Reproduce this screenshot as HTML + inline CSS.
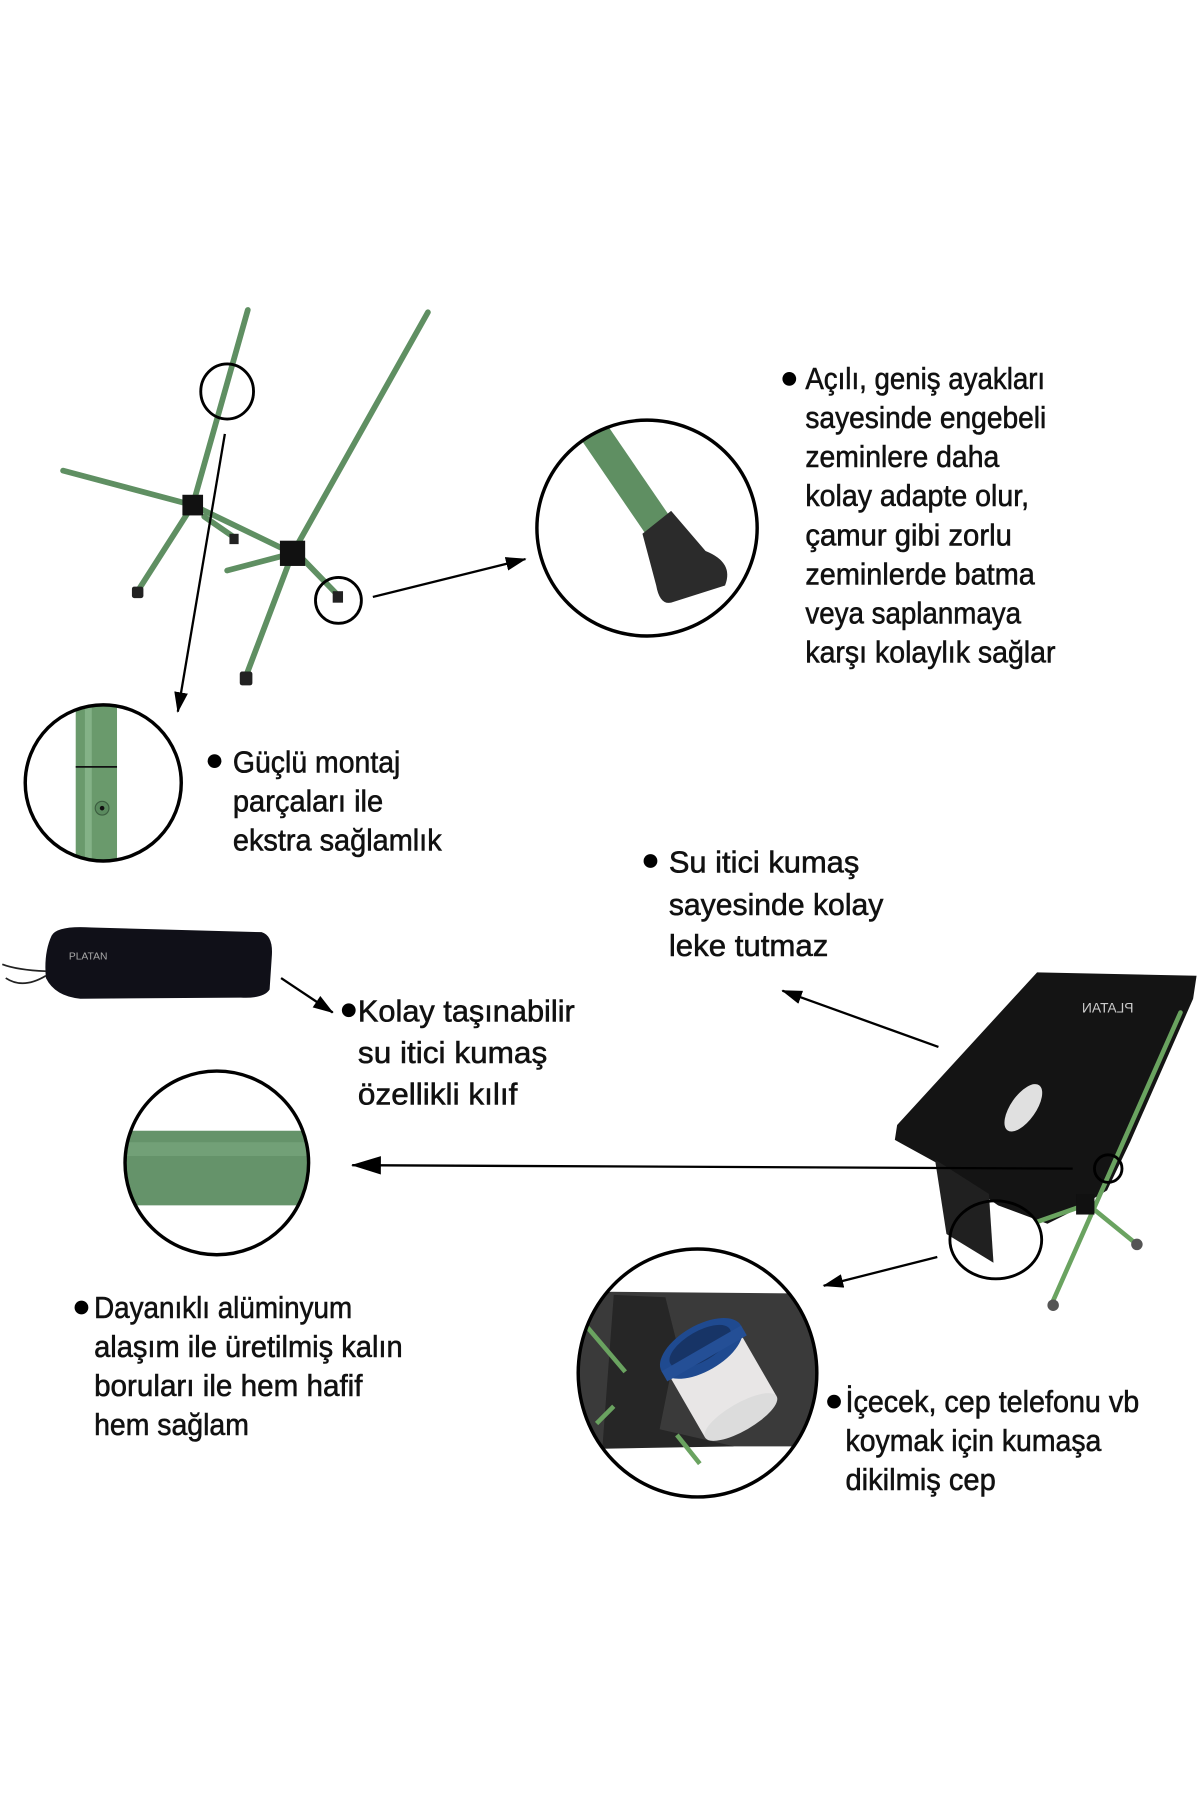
<!DOCTYPE html>
<html><head><meta charset="utf-8"><style>
html,body{margin:0;padding:0;background:#fff;}
svg{display:block;}
text{font-family:"Liberation Sans Narrow","Liberation Sans",sans-serif;font-size:27px;fill:#111;stroke:#111;stroke-width:0.5;}
</style></head><body>
<svg width="1200" height="1800" viewBox="0 0 1046 1568" preserveAspectRatio="none" xmlns="http://www.w3.org/2000/svg">
<defs>
<marker id="ahb" markerWidth="26" markerHeight="16" refX="25" refY="8" orient="auto" markerUnits="userSpaceOnUse"><path d="M0,0 L26,8 L0,16 z" fill="#000"/></marker>
<marker id="ahm" markerWidth="18" markerHeight="12" refX="17" refY="6" orient="auto" markerUnits="userSpaceOnUse"><path d="M0,0 L18,6 L0,12 z" fill="#000"/></marker>
<clipPath id="c1"><ellipse cx="564" cy="460" rx="96" ry="94"/></clipPath>
<clipPath id="c2"><ellipse cx="90" cy="682" rx="68" ry="68"/></clipPath>
<clipPath id="c3"><ellipse cx="189" cy="1013" rx="80" ry="80"/></clipPath>
<clipPath id="c4"><ellipse cx="608" cy="1196" rx="104" ry="108"/></clipPath>
</defs>

<g stroke="#5f8f62" stroke-width="5" stroke-linecap="round" fill="none">
<line x1="216" y1="270" x2="168" y2="440"/>
<line x1="168" y1="440" x2="120" y2="515"/>
<line x1="55" y1="410" x2="168" y2="440"/>
<line x1="168" y1="440" x2="255" y2="482"/>
<line x1="178" y1="450" x2="204" y2="468"/>
<line x1="373" y1="272" x2="255" y2="482"/>
<line x1="255" y1="482" x2="214" y2="590"/>
<line x1="255" y1="482" x2="198" y2="497"/>
<line x1="262" y1="485" x2="294" y2="518"/>
</g>
<rect x="159" y="431" width="18" height="18" fill="#111"/>
<rect x="244" y="471" width="22" height="22" fill="#111"/>
<rect x="115" y="511" width="10" height="10" rx="2" fill="#222"/>
<rect x="209" y="585" width="11" height="12" rx="2" fill="#222"/>
<rect x="200" y="465" width="8" height="9" fill="#222"/>
<rect x="290" y="515" width="9" height="10" fill="#222"/>

<g fill="none" stroke="#000" stroke-width="2.5">
<ellipse cx="198" cy="341" rx="23" ry="24"/>
<ellipse cx="295" cy="523" rx="20" ry="20"/>
</g>

<g clip-path="url(#c1)">
<line x1="510" y1="365" x2="575" y2="460" stroke="#5f8f62" stroke-width="26"/>
<path d="M560,465 L585,445 L615,480 Q640,490 632,510 L585,525 Q575,527 572,510 Z" fill="#2b2b2b"/>
</g>
<ellipse cx="564" cy="460" rx="96" ry="94" fill="none" stroke="#000" stroke-width="3"/>

<g clip-path="url(#c2)">
<rect x="66" y="610" width="36" height="150" fill="#6a9a6c"/>
<rect x="74" y="610" width="6" height="150" fill="#84b287" />
<line x1="66" y1="668" x2="102" y2="668" stroke="#111" stroke-width="1.5"/>
<circle cx="89" cy="704" r="6" fill="#5a8a5e" stroke="#3c5e40"/>
<circle cx="89" cy="704" r="2" fill="#111"/>
</g>
<ellipse cx="90" cy="682" rx="68" ry="68" fill="none" stroke="#000" stroke-width="3"/>

<g clip-path="url(#c3)">
<rect x="100" y="985" width="180" height="65" fill="#65936a"/>
<rect x="100" y="995" width="180" height="12" fill="#72a077"/>
</g>
<ellipse cx="189" cy="1013" rx="80" ry="80" fill="none" stroke="#000" stroke-width="3"/>

<g clip-path="url(#c4)">
<path d="M500,1125 L720,1127 L720,1260 L500,1260 Z" fill="#3a3a3a"/>
<path d="M535,1128 L580,1130 L590,1170 L575,1245 L640,1260 L525,1262 Z" fill="#262626"/>
<line x1="505" y1="1148" x2="545" y2="1195" stroke="#6aa360" stroke-width="4"/>
<line x1="590" y1="1250" x2="610" y2="1275" stroke="#6aa360" stroke-width="4"/>
<line x1="520" y1="1240" x2="535" y2="1225" stroke="#6aa360" stroke-width="4"/>
<g transform="rotate(-30 630 1195)">
<rect x="588" y="1175" width="72" height="62" fill="#e8e6e6"/>
<ellipse cx="624" cy="1237" rx="36" ry="12" fill="#dcdcdc"/>
<ellipse cx="624" cy="1168" rx="40" ry="20" fill="#1f4a90"/>
<ellipse cx="624" cy="1166" rx="30" ry="13" fill="#173466"/>
<rect x="584" y="1168" width="80" height="10" fill="#244f96"/>
</g>
</g>
<ellipse cx="608" cy="1196" rx="104" ry="108" fill="none" stroke="#000" stroke-width="3"/>

<path d="M45,815 Q50,806 80,808 L228,812 Q238,815 237,832 L235,862 Q230,870 210,869 L70,870 Q48,868 40,852 Q38,830 45,815 Z" fill="#101018"/>
<text x="60" y="836" style="font-size:9px;fill:#aaa;stroke:none;">PLATAN</text>
<path d="M40,846 Q15,845 2,840 M40,850 Q20,862 5,852" stroke="#222" stroke-width="1.5" fill="none"/>

<path d="M904,847 L1043,850 L1040,870 L985,995 L965,1037 L935,1055 L913,1066 L870,1050 L820,1015 L780,993 L782,980 Z" fill="#141414"/>
<g stroke="#6aa360" stroke-width="4" stroke-linecap="round">
<line x1="1029" y1="882" x2="918" y2="1133"/>
<line x1="948" y1="1049" x2="991" y2="1084"/>
<line x1="948" y1="1049" x2="905" y2="1064"/>
</g>
<circle cx="918" cy="1137" r="5" fill="#555"/>
<circle cx="991" cy="1084" r="5" fill="#555"/>
<ellipse cx="892" cy="965" rx="11" ry="24" transform="rotate(35 892 965)" fill="#e0e0e0"/>
<path d="M815,1010 L862,1040 L866,1100 L825,1075 Z" fill="#202020"/>
<rect x="938" y="1040" width="16" height="18" fill="#111"/>
<text x="932" y="882" transform="scale(-1,1) translate(-1920,0)" style="font-size:12px;fill:#ccc;stroke:none;">PLATAN</text>
<g fill="none" stroke="#000" stroke-width="2.5">
<ellipse cx="966" cy="1018" rx="12" ry="12"/>
<ellipse cx="868" cy="1080" rx="40" ry="34"/>
</g>

<g stroke="#000" stroke-width="2" fill="none">
<line x1="196" y1="378" x2="155" y2="620" marker-end="url(#ahm)"/>
<line x1="325" y1="520" x2="458" y2="487" marker-end="url(#ahm)"/>
<line x1="245" y1="852" x2="290" y2="882" marker-end="url(#ahm)"/>
<line x1="818" y1="912" x2="682" y2="863" marker-end="url(#ahm)"/>
<line x1="935" y1="1018" x2="307" y2="1015" marker-end="url(#ahb)"/>
<line x1="817" y1="1095" x2="718" y2="1120" marker-end="url(#ahm)"/>
</g>

<g fill="#000">
<circle cx="688" cy="330" r="6"/>
<circle cx="187" cy="663" r="6"/>
<circle cx="567" cy="750" r="6"/>
<circle cx="304" cy="880" r="6"/>
<circle cx="71" cy="1139" r="6"/>
<circle cx="727" cy="1221" r="6"/>
</g>

<text x="702" y="339" textLength="209" lengthAdjust="spacingAndGlyphs">Açılı, geniş ayakları</text>
<text x="702" y="373" textLength="210" lengthAdjust="spacingAndGlyphs">sayesinde engebeli</text>
<text x="702" y="407" textLength="169" lengthAdjust="spacingAndGlyphs">zeminlere daha</text>
<text x="702" y="441" textLength="195" lengthAdjust="spacingAndGlyphs">kolay adapte olur,</text>
<text x="702" y="475" textLength="180" lengthAdjust="spacingAndGlyphs">çamur gibi zorlu</text>
<text x="702" y="509" textLength="200" lengthAdjust="spacingAndGlyphs">zeminlerde batma</text>
<text x="702" y="543" textLength="188" lengthAdjust="spacingAndGlyphs">veya saplanmaya</text>
<text x="702" y="577" textLength="218" lengthAdjust="spacingAndGlyphs">karşı kolaylık sağlar</text>

<text x="203" y="673" textLength="146" lengthAdjust="spacingAndGlyphs">Güçlü montaj</text>
<text x="203" y="707" textLength="131" lengthAdjust="spacingAndGlyphs">parçaları ile</text>
<text x="203" y="741" textLength="182" lengthAdjust="spacingAndGlyphs">ekstra sağlamlık</text>

<text x="583" y="760" textLength="166" lengthAdjust="spacingAndGlyphs">Su itici kumaş</text>
<text x="583" y="797" textLength="187" lengthAdjust="spacingAndGlyphs">sayesinde kolay</text>
<text x="583" y="833" textLength="139" lengthAdjust="spacingAndGlyphs">leke tutmaz</text>

<text x="312" y="890" textLength="189" lengthAdjust="spacingAndGlyphs">Kolay taşınabilir</text>
<text x="312" y="926" textLength="165" lengthAdjust="spacingAndGlyphs">su itici kumaş</text>
<text x="312" y="962" textLength="139" lengthAdjust="spacingAndGlyphs">özellikli kılıf</text>

<text x="82" y="1148" textLength="225" lengthAdjust="spacingAndGlyphs">Dayanıklı alüminyum</text>
<text x="82" y="1182" textLength="269" lengthAdjust="spacingAndGlyphs">alaşım ile üretilmiş kalın</text>
<text x="82" y="1216" textLength="234" lengthAdjust="spacingAndGlyphs">boruları ile hem hafif</text>
<text x="82" y="1250" textLength="135" lengthAdjust="spacingAndGlyphs">hem sağlam</text>

<text x="737" y="1230" textLength="256" lengthAdjust="spacingAndGlyphs">İçecek, cep telefonu vb</text>
<text x="737" y="1264" textLength="223" lengthAdjust="spacingAndGlyphs">koymak için kumaşa</text>
<text x="737" y="1298" textLength="131" lengthAdjust="spacingAndGlyphs">dikilmiş cep</text>
</svg>
</body></html>
